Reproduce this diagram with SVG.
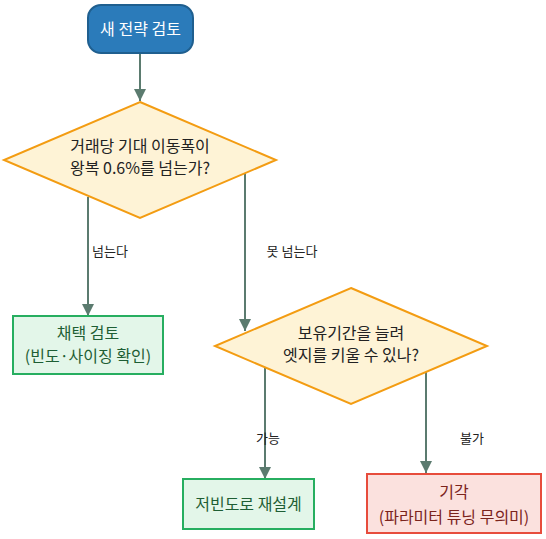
<svg xmlns="http://www.w3.org/2000/svg" width="546" height="539" viewBox="0 0 546 539">
<defs>
<marker id="arr" viewBox="0 0 10 10" refX="10" refY="5" markerWidth="6" markerHeight="6" markerUnits="strokeWidth" orient="auto">
<path d="M0,0 L10,5 L0,10 z" fill="#5b7b6f"/>
</marker>
<style>
text{font-family:"Noto Sans CJK KR","Noto Sans",sans-serif;text-anchor:middle;dominant-baseline:central}
.n{font-size:16px}
.lbl{font-size:13px;fill:#222}
.dec{fill:#fef3d6;stroke:#f39c12;stroke-width:2}
.ok{fill:#e3f6e9;stroke:#27ae60;stroke-width:2}
.no{fill:#fbe1de;stroke:#e74c3c;stroke-width:2}
.c{fill:none;stroke:#5b7b6f;stroke-width:2;marker-end:url(#arr)}
</style>
</defs>
<rect width="546" height="539" fill="#fff"/>
<g id="connectors">
<path class="c" d="M140,53 L140,101"/>
<path class="c" d="M88,197 L88,316"/>
<path class="c" d="M245,173 L245,331"/>
<path class="c" d="M265,368 L265,479"/>
<path class="c" d="M426,372 L426,473"/>
<text class="lbl" x="110" y="250">넘는다</text>
<text class="lbl" x="292" y="250">못 넘는다</text>
<text class="lbl" x="268" y="437">가능</text>
<text class="lbl" x="472" y="437">불가</text>
</g>
<g id="start">
<rect x="88" y="5" width="105" height="48" rx="13" fill="#2b7bba" stroke="#1f5f8f" stroke-width="2"/>
<text class="n" x="140.5" y="28" fill="#fff">새 전략 검토</text>
</g>
<g id="q1">
<polygon class="dec" points="140,102 276,160 140,218 4,160"/>
<text class="n" x="140" y="145" fill="#222">거래당 기대 이동폭이</text>
<text class="n" x="140" y="167" fill="#222">왕복 0.6%를 넘는가?</text>
</g>
<g id="adopt">
<rect class="ok" x="13" y="316" width="150" height="58"/>
<text class="n" x="88" y="332" fill="#1e5e34">채택 검토</text>
<text class="n" x="88" y="355" fill="#1e5e34">(빈도·사이징 확인)</text>
</g>
<g id="q2">
<polygon class="dec" points="351,288 487,346 351,404 215,346"/>
<text class="n" x="351" y="332" fill="#222">보유기간을 늘려</text>
<text class="n" x="351" y="354" fill="#222">엣지를 키울 수 있나?</text>
</g>
<g id="redesign">
<rect class="ok" x="183" y="479" width="131" height="50"/>
<text class="n" x="248.5" y="503" fill="#1e5e34">저빈도로 재설계</text>
</g>
<g id="reject">
<rect class="no" x="367" y="474" width="174" height="59"/>
<text class="n" x="454" y="491" fill="#7b241c">기각</text>
<text class="n" x="454" y="516" fill="#7b241c">(파라미터 튜닝 무의미)</text>
</g>
</svg>
